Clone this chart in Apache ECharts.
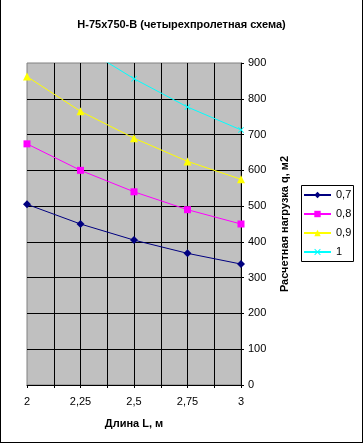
<!DOCTYPE html>
<html>
<head>
<meta charset="utf-8">
<script src="https://cdn.jsdelivr.net/npm/echarts@6/dist/echarts.min.js"></script>
<style>
html,body{margin:0;padding:0;background:#fff;}
#wrap{position:relative;width:363px;height:443px;}
#chart{width:363px;height:443px;}
#frame{position:absolute;left:0;top:0;width:363px;height:443px;box-sizing:border-box;border-left:1px solid #000;border-right:1px solid #000;border-bottom:1px solid #000;pointer-events:none;}
</style>
</head>
<body>
<div id="wrap"><div id="chart"></div><div id="frame"></div></div>
<script>
var titleText = 'Н-75х750-В (четырехпролетная схема)';
var xName = 'Длина L, м';
var yName = 'Расчетная нагрузка q, м2';
var lengths = [2, 2.25, 2.5, 2.75, 3];
var seriesNames = ['0,7', '0,8', '0,9', '1'];
var q07 = [505, 450, 405, 368, 338];
var q08 = [674, 600, 540, 490, 450];
var q09 = [862, 765, 690, 625, 575];
var q10 = [null, 948, 856, 777, 713];
var yMin = 0, yMax = 900, yStep = 100;
var xMin = 2, xMax = 3, xStep = 0.125, xLabelStep = 0.25;

var colors = ['#000080', '#FF00FF', '#FFFF00', '#00FFFF'];
var xPath = 'path://M1,0 L5,4 L9,0 L10,1 L6,5 L10,9 L9,10 L5,6 L1,10 L0,9 L4,5 L0,1 Z';
var symbols = ['diamond', 'rect', 'triangle', xPath];
var sizes = [8, 7, 8, 6];
var values = [q07, q08, q09, q10];
var FONT = '"Liberation Sans", Arial, sans-serif';

function pairs(arr) {
  return lengths.map(function (x, i) { return [x, arr[i]]; });
}

var series = values.map(function (arr, i) {
  return {
    name: seriesNames[i],
    type: 'line',
    data: pairs(arr),
    symbol: symbols[i],
    symbolSize: sizes[i],
    showAllSymbol: true,
    clip: true,
    connectNulls: false,
    lineStyle: { color: colors[i], width: 1 },
    itemStyle: { color: colors[i], borderWidth: 0 },
    emphasis: { disabled: true },
    animation: false
  };
});

var chart = echarts.init(document.getElementById('chart'), null, { renderer: 'canvas' });
chart.setOption({
  animation: false,
  backgroundColor: '#fff',
  color: colors,
  title: {
    text: titleText,
    left: 'center',
    top: 19,
    padding: 0,
    textStyle: { fontFamily: FONT, fontSize: 11, fontWeight: 'bold', color: '#000' }
  },
  legend: {
    orient: 'vertical',
    left: 303,
    top: 189,
    padding: 0,
    itemWidth: 27,
    itemHeight: 8,
    itemGap: 7,
    selectedMode: false,
    textStyle: { fontFamily: FONT, fontSize: 11, color: '#000', lineHeight: 12 },
    data: seriesNames
  },
  graphic: [{
    type: 'rect',
    shape: { x: 301.5, y: 185.5, width: 52, height: 76 },
    style: { fill: null, stroke: '#000', lineWidth: 1 },
    silent: true
  }],
  grid: {
    left: 27, top: 63, width: 214, height: 322,
    show: true,
    backgroundColor: '#C0C0C0',
    borderColor: '#808080',
    borderWidth: 1
  },
  xAxis: {
    type: 'value',
    min: xMin, max: xMax, interval: xStep,
    name: xName,
    nameLocation: 'middle',
    nameGap: 33,
    nameTextStyle: { fontFamily: FONT, fontSize: 11, fontWeight: 'bold', color: '#000' },
    axisLine: { show: true, onZero: false, lineStyle: { color: '#000', width: 1 } },
    axisTick: { show: true, length: 3, lineStyle: { color: '#000' } },
    axisLabel: {
      margin: 11,
      fontFamily: FONT, fontSize: 11, color: '#000',
      showMinLabel: true, showMaxLabel: true,
      formatter: function (v) {
        var k = Math.round((v - xMin) / xLabelStep * 1000) / 1000;
        if (Math.abs(k - Math.round(k)) > 1e-6) return '';
        return String(Math.round(v * 100) / 100).replace('.', ',');
      }
    },
    splitLine: { show: true, showMinLine: false, showMaxLine: false, lineStyle: { color: '#000', width: 1 } }
  },
  yAxis: {
    type: 'value',
    position: 'right',
    min: yMin, max: yMax, interval: yStep,
    name: yName,
    nameLocation: 'middle',
    nameRotate: 90,
    nameGap: 38,
    nameTextStyle: { fontFamily: FONT, fontSize: 11, fontWeight: 'bold', color: '#000' },
    axisLine: { show: true, onZero: false, lineStyle: { color: '#000', width: 1 } },
    axisTick: { show: true, length: 3, lineStyle: { color: '#000' } },
    axisLabel: { margin: 7, fontFamily: FONT, fontSize: 11, color: '#000' },
    splitLine: { show: true, showMinLine: false, showMaxLine: false, lineStyle: { color: '#000', width: 1 } }
  },
  series: series
});
</script>
</body>
</html>
